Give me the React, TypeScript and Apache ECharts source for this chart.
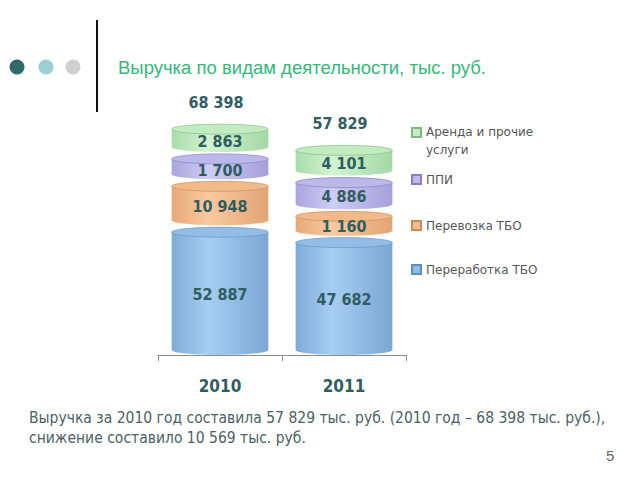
import React, { useEffect, useRef } from 'react';
import * as echarts from 'echarts';

// ---- data ----
const categories = ['2010', '2011'];
const seriesNames = ['Переработка ТБО', 'Перевозка ТБО', 'ППИ', 'Аренда и прочие услуги'];
const pererabotka = [52887, 47682];
const perevozka = [10948, 1160];
const ppi = [1700, 4886];
const arenda = [2863, 4101];
const seriesValues = [pererabotka, perevozka, ppi, arenda];

const titleText = 'Выручка по видам деятельности, тыс. руб.';
const noteLine1 = 'Выручка за 2010 год составила 57 829 тыс. руб. (2010 год – 68 398 тыс. руб.),';
const noteLine2 = 'снижение составило 10 569 тыс. руб.';
const pageNumber = '5';

// ---- styles ----
const palette = [
  { stops: ['#80ABD8', '#A6CEF4', '#7BA6D4'], top: '#93BCE6', edge: '#6F9BC9', legend: '#8FBDEA', legendBorder: '#5E8FC2' },
  { stops: ['#E8A979', '#FAC9A0', '#E3A473'], top: '#F2B98A', edge: '#D09562', legend: '#F5BD8E', legendBorder: '#C88A58' },
  { stops: ['#A9A5DF', '#CFCCF5', '#A4A0DA'], top: '#BCB8EA', edge: '#8E8ACB', legend: '#BEB9EC', legendBorder: '#8580C4' },
  { stops: ['#A9DCA9', '#D2F3D2', '#A4D8A4'], top: '#C2EBC2', edge: '#8CC58C', legend: '#C2ECC2', legendBorder: '#80B880' },
];
const LABEL_COLOR = '#2F5E60';
const CAP = 22; // 3D cap thickness per segment (px)
const GAP = 2;
const RY = 5;

const fmt = (n: number) => String(n).replace(/\B(?=(\d{3})+(?!\d))/g, ' ');

function buildSeriesData(si: number) {
  return categories.map((_, ci) => {
    let base = 0;
    for (let k = 0; k < si; k++) base += seriesValues[k][ci];
    return [ci, base, seriesValues[si][ci]];
  });
}

function makeRenderItem(si: number) {
  return (params: any, api: any) => {
    const cat = api.value(0);
    const base = api.value(1);
    const val = api.value(2);
    const pBase = api.coord([cat, base]);
    const pTop = api.coord([cat, base + val]);
    const bandW = api.size([1, 0])[0];
    const w = bandW * 0.78;
    const cx = pBase[0];
    const shift = si * (CAP + GAP);
    const yb = pBase[1] - shift;
    const yt = pTop[1] - shift - CAP;
    const pal = palette[si];
    const grad = new echarts.graphic.LinearGradient(0, 0, 1, 0, [
      { offset: 0, color: pal.stops[0] },
      { offset: 0.38, color: pal.stops[1] },
      { offset: 1, color: pal.stops[2] },
    ]);
    const children: any[] = [
      {
        type: 'ellipse',
        shape: { cx, cy: yb - RY, rx: w / 2, ry: RY },
        style: { fill: grad },
      },
      {
        type: 'rect',
        shape: { x: cx - w / 2, y: yt + RY, width: w, height: Math.max(0, yb - RY - (yt + RY)) },
        style: { fill: grad },
      },
      {
        type: 'ellipse',
        shape: { cx, cy: yt + RY, rx: w / 2, ry: RY },
        style: { fill: pal.top, stroke: pal.edge, lineWidth: 0.8 },
      },
      {
        type: 'text',
        x: cx,
        y: (yt + RY + yb) / 2 + 1,
        style: {
          text: fmt(val),
          fill: LABEL_COLOR,
          font: 'bold 16px "DejaVu Sans Condensed", "DejaVu Sans", sans-serif',
          align: 'center',
          verticalAlign: 'middle',
        },
      },
    ];
    if (si === seriesValues.length - 1) {
      let total = 0;
      for (let k = 0; k < seriesValues.length; k++) total += seriesValues[k][cat];
      children.push({
        type: 'text',
        x: cx - 4,
        y: yt - 22,
        style: {
          text: fmt(total),
          fill: LABEL_COLOR,
          font: 'bold 16px "DejaVu Sans Condensed", "DejaVu Sans", sans-serif',
          align: 'center',
          verticalAlign: 'middle',
        },
      });
    }
    return { type: 'group', children };
  };
}

const legendTops = [256, 212, 166, 110];

export default function App() {
  const ref = useRef<HTMLDivElement>(null);
  useEffect(() => {
    if (!ref.current) return;
    const chart = echarts.init(ref.current, null, { renderer: 'svg' });
    const legendText: any = {
      color: '#575757',
      fontSize: 12,
      fontFamily: '"DejaVu Sans", sans-serif',
      lineHeight: 17,
    };
    const option: any = {
      animation: false,
      backgroundColor: '#ffffff',
      title: {
        text: titleText,
        left: 113,
        top: 53,
        textStyle: { color: '#38B67A', fontSize: 18.5, fontWeight: 'normal', fontFamily: '"Liberation Sans", Arial, sans-serif' },
      },
      legend: seriesNames.map((name, i) => ({
        data: [name],
        left: 406,
        top: legendTops[i],
        orient: 'vertical',
        icon: 'rect',
        itemWidth: 9,
        itemHeight: 9,
        itemGap: 0,
        selectedMode: false,
        formatter: i === 3 ? '{a|Аренда и прочие}\n{b|услуги}' : '{name}',
        textStyle: i === 3
          ? { ...legendText, rich: { a: { ...legendText, lineHeight: 34 }, b: { ...legendText, lineHeight: 1 } } }
          : legendText,
      })),
      grid: { left: 158, right: 234, top: 115, bottom: 125 },
      xAxis: {
        type: 'category',
        data: categories,
        offset: 12,
        axisLine: { lineStyle: { color: '#8C8C8C', width: 1 } },
        axisTick: { show: true, length: 6, lineStyle: { color: '#8C8C8C' } },
        axisLabel: {
          color: LABEL_COLOR,
          fontSize: 17,
          fontWeight: 'bold',
          fontFamily: '"DejaVu Sans Condensed", "DejaVu Sans", sans-serif',
          margin: 10,
        },
      },
      yAxis: {
        type: 'value',
        min: 0,
        max: 120000,
        show: false,
        splitLine: { show: false },
      },
      series: seriesNames.map((name, si) => ({
        name,
        type: 'custom',
        clip: false,
        renderItem: makeRenderItem(si),
        encode: { x: 0, y: 2 },
        itemStyle: { color: palette[si].legend, borderColor: palette[si].legendBorder, borderWidth: 1 },
        data: buildSeriesData(si),
      })),
      graphic: [
        { type: 'circle', shape: { cx: 17, cy: 67, r: 7.5 }, style: { fill: '#2F6A68' } },
        { type: 'circle', shape: { cx: 46, cy: 67, r: 7.5 }, style: { fill: '#9CCFD1' } },
        { type: 'circle', shape: { cx: 73, cy: 67, r: 7.5 }, style: { fill: '#D0D0D0' } },
        { type: 'line', shape: { x1: 97, y1: 20, x2: 97, y2: 112 }, style: { stroke: '#111111', lineWidth: 2 } },
        {
          type: 'text', left: 29, top: 410,
          style: { text: noteLine1, fill: '#4A6262', font: '15.5px "DejaVu Sans Condensed", "DejaVu Sans", sans-serif' },
        },
        {
          type: 'text', left: 29, top: 430,
          style: { text: noteLine2, fill: '#4A6262', font: '15.5px "DejaVu Sans Condensed", "DejaVu Sans", sans-serif' },
        },
        {
          type: 'text', left: 606, top: 448,
          style: { text: pageNumber, fill: '#666666', font: '15px "Liberation Sans", Arial, sans-serif' },
        },
      ],
    };
    chart.setOption(option);
    return () => chart.dispose();
  }, []);
  return <div ref={ref} style={{ width: 640, height: 480, position: 'absolute', left: 0, top: 0 }} />;
}
